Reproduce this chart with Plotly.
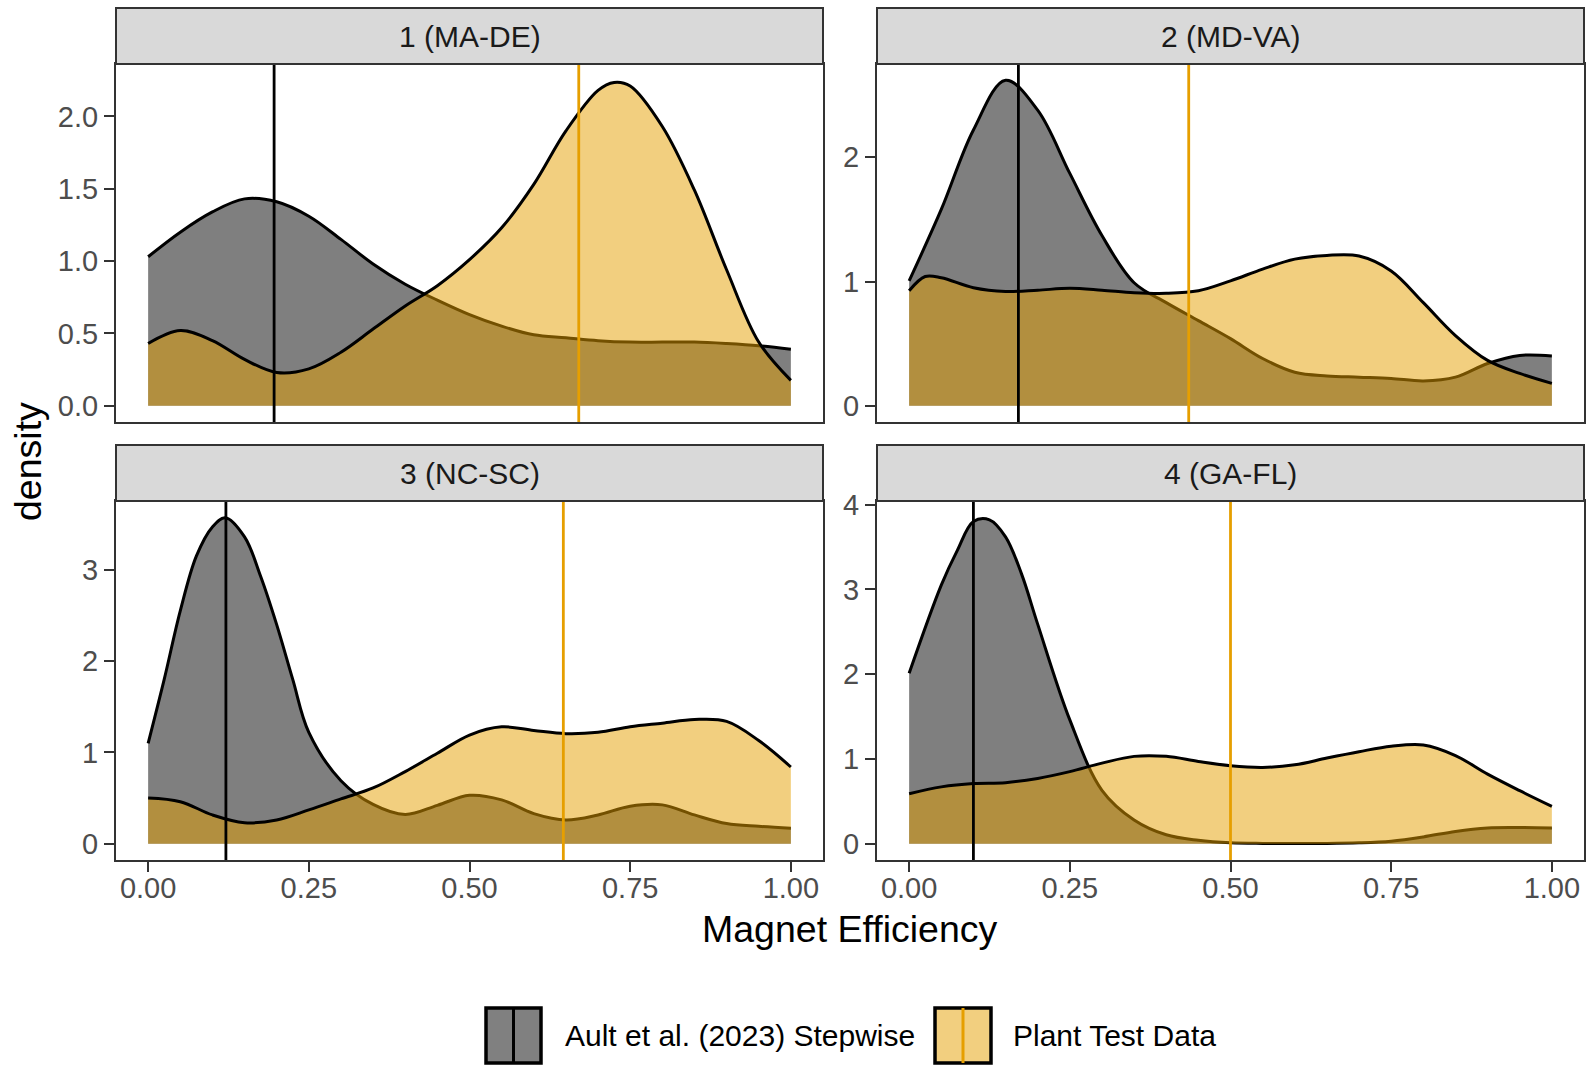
import plotly.graph_objects as go

# ---------------- data ----------------
PANELS = ["1 (MA-DE)", "2 (MD-VA)", "3 (NC-SC)", "4 (GA-FL)"]
SERIES = ["Ault et al. (2023) Stepwise", "Plant Test Data"]
X_TICKS = [0.0, 0.25, 0.5, 0.75, 1.0]
X_TICK_LABELS = ["0.00", "0.25", "0.50", "0.75", "1.00"]

GRID = [0.00, 0.05, 0.10, 0.15, 0.20, 0.25, 0.30, 0.35, 0.40, 0.45, 0.50,
        0.55, 0.60, 0.65, 0.70, 0.75, 0.80, 0.85, 0.90, 0.95, 1.00]

# Panel 1 (MA-DE)
P1_AULT_X = GRID
P1_AULT_Y = [1.03, 1.20, 1.34, 1.43, 1.41, 1.31, 1.15, 0.98, 0.84, 0.73, 0.63,
             0.55, 0.49, 0.47, 0.45, 0.44, 0.44, 0.44, 0.43, 0.415, 0.39]
P1_PLANT_X = [0.00, 0.05, 0.10, 0.15, 0.20, 0.25, 0.30, 0.35, 0.40, 0.45, 0.50,
              0.55, 0.60, 0.65, 0.70, 0.725, 0.75, 0.80, 0.85, 0.90, 0.95, 1.00]
P1_PLANT_Y = [0.43, 0.52, 0.45, 0.32, 0.23, 0.255, 0.37, 0.53, 0.69, 0.83, 1.01,
              1.23, 1.53, 1.90, 2.18, 2.235, 2.21, 1.93, 1.49, 0.94, 0.44, 0.175]

# Panel 2 (MD-VA)
P2_AULT_X = GRID
P2_AULT_Y = [1.005, 1.58, 2.22, 2.62, 2.38, 1.87, 1.37, 0.99, 0.83, 0.685, 0.54,
             0.38, 0.27, 0.24, 0.23, 0.22, 0.20, 0.23, 0.34, 0.405, 0.40]
P2_PLANT_X = [0.00, 0.025, 0.05, 0.10, 0.15, 0.20, 0.25, 0.30, 0.35, 0.40, 0.45, 0.50,
              0.55, 0.60, 0.65, 0.70, 0.75, 0.80, 0.85, 0.90, 0.95, 1.00]
P2_PLANT_Y = [0.925, 1.04, 1.03, 0.95, 0.92, 0.93, 0.945, 0.93, 0.91, 0.905, 0.925, 1.005,
              1.10, 1.18, 1.21, 1.205, 1.085, 0.83, 0.565, 0.365, 0.26, 0.18]

# Panel 3 (NC-SC)
P3_AULT_X = [0.00, 0.025, 0.05, 0.075, 0.10, 0.12, 0.15, 0.175, 0.20, 0.225, 0.25, 0.30,
             0.35, 0.40, 0.45, 0.50, 0.55, 0.60, 0.65, 0.70, 0.75, 0.80, 0.85, 0.90,
             0.95, 1.00]
P3_AULT_Y = [1.10, 1.80, 2.55, 3.15, 3.47, 3.57, 3.36, 2.93, 2.40, 1.80, 1.22, 0.69,
             0.43, 0.32, 0.42, 0.53, 0.48, 0.33, 0.26, 0.315, 0.41, 0.425, 0.315, 0.22,
             0.19, 0.17]
P3_PLANT_X = GRID
P3_PLANT_Y = [0.50, 0.46, 0.315, 0.23, 0.26, 0.37, 0.49, 0.61, 0.79, 0.99, 1.19,
              1.28, 1.24, 1.205, 1.22, 1.28, 1.32, 1.36, 1.34, 1.13, 0.84]

# Panel 4 (GA-FL)
P4_AULT_X = [0.00, 0.05, 0.075, 0.10, 0.125, 0.15, 0.175, 0.20, 0.25, 0.30, 0.35, 0.40,
             0.45, 0.50, 0.55, 0.60, 0.65, 0.70, 0.75, 0.80, 0.85, 0.90, 0.95, 1.00]
P4_AULT_Y = [2.01, 3.05, 3.46, 3.80, 3.82, 3.62, 3.18, 2.59, 1.46, 0.63, 0.28, 0.105,
             0.04, 0.01, 0.003, 0.002, 0.003, 0.01, 0.03, 0.08, 0.145, 0.185, 0.19, 0.185]
P4_PLANT_X = GRID
P4_PLANT_Y = [0.59, 0.67, 0.71, 0.72, 0.77, 0.85, 0.95, 1.03, 1.03, 0.97, 0.92,
              0.90, 0.93, 1.01, 1.085, 1.15, 1.165, 1.04, 0.82, 0.625, 0.44]

# vertical reference lines
AULT_LINE = [0.196, 0.170, 0.121, 0.100]
PLANT_LINE = [0.670, 0.435, 0.646, 0.500]

# y tick values per panel
Y_TICKS = [[0.0, 0.5, 1.0, 1.5, 2.0], [0, 1, 2], [0, 1, 2, 3], [0, 1, 2, 3, 4]]
Y_TICK_LABELS = [["0.0", "0.5", "1.0", "1.5", "2.0"], ["0", "1", "2"],
                 ["0", "1", "2", "3"], ["0", "1", "2", "3", "4"]]
Y_MAX = [2.25, 2.62, 3.575, 3.85]

# ---------------- style ----------------
FONT = "Liberation Sans, Arial, Helvetica, sans-serif"
AULT_FILL = "rgba(0,0,0,0.5)"
PLANT_FILL = "rgba(230,159,0,0.5)"
PLANT_COLOR = "#E69F00"
BORDER = "#333333"
TICK_TEXT = "#4D4D4D"
SMALL = 29
STRIP = 30
LEG = 30
BIG = 37.5
LW = 3.0

W, H = 1596, 1065
ML, MR, MT, MB = 116, 12, 8, 205
PW = W - ML - MR
PH = H - MT - MB


def px_x(p):
    return (p - ML) / PW


def px_y(p):
    return (H - MB - p) / PH


X_DOM = [[0.0, px_x(823)], [px_x(877), 1.0]]
Y_DOM_TOP = [px_y(422), px_y(64)]
Y_DOM_BOT = [0.0, px_y(501)]
STRIP_TOP = [px_y(64), px_y(8)]
STRIP_BOT = [px_y(501), px_y(445)]

series_data = [
    (P1_AULT_X, P1_AULT_Y, P1_PLANT_X, P1_PLANT_Y),
    (P2_AULT_X, P2_AULT_Y, P2_PLANT_X, P2_PLANT_Y),
    (P3_AULT_X, P3_AULT_Y, P3_PLANT_X, P3_PLANT_Y),
    (P4_AULT_X, P4_AULT_Y, P4_PLANT_X, P4_PLANT_Y),
]

fig = go.Figure()
shapes = []
annotations = []

for i, (ax_, ay_, pxs, pys) in enumerate(series_data):
    suf = "" if i == 0 else str(i + 1)
    xa, ya = "x" + suf, "y" + suf
    fig.add_trace(go.Scatter(
        x=ax_, y=ay_, xaxis=xa, yaxis=ya, mode="lines", fill="tozeroy",
        fillcolor=AULT_FILL, line=dict(color="black", width=LW, shape="spline", smoothing=1.0),
        name=SERIES[0], showlegend=False, hoverinfo="x+y"))
    fig.add_trace(go.Scatter(
        x=pxs, y=pys, xaxis=xa, yaxis=ya, mode="lines", fill="tozeroy",
        fillcolor=PLANT_FILL, line=dict(color="black", width=LW, shape="spline", smoothing=1.0),
        name=SERIES[1], showlegend=False, hoverinfo="x+y"))
    shapes.append(dict(type="line", xref=xa, yref=ya + " domain", x0=AULT_LINE[i], x1=AULT_LINE[i],
                       y0=0, y1=1, line=dict(color="black", width=2.8), layer="above"))
    shapes.append(dict(type="line", xref=xa, yref=ya + " domain", x0=PLANT_LINE[i], x1=PLANT_LINE[i],
                       y0=0, y1=1, line=dict(color=PLANT_COLOR, width=2.8), layer="above"))

layout_axes = {}
for i in range(4):
    suf = "" if i == 0 else str(i + 1)
    col = i % 2
    row = i // 2
    bottom = row == 1
    layout_axes["xaxis" + suf] = dict(
        domain=X_DOM[col], range=[-0.05, 1.05], anchor="y" + suf,
        showgrid=False, zeroline=False, showline=True, mirror=True,
        linecolor=BORDER, linewidth=2,
        tickmode="array", tickvals=X_TICKS, ticktext=X_TICK_LABELS,
        ticks="outside" if bottom else "", ticklen=10, tickwidth=2, tickcolor=BORDER,
        showticklabels=bottom, tickfont=dict(family=FONT, size=SMALL, color=TICK_TEXT),
        ticklabelstandoff=-9,
    )
    m = Y_MAX[i]
    layout_axes["yaxis" + suf] = dict(
        domain=Y_DOM_BOT if bottom else Y_DOM_TOP, range=[-0.05 * m, 1.05 * m], anchor="x" + suf,
        showgrid=False, zeroline=False, showline=True, mirror=True,
        linecolor=BORDER, linewidth=2,
        tickmode="array", tickvals=Y_TICKS[i], ticktext=Y_TICK_LABELS[i],
        ticks="outside", ticklen=10, tickwidth=2, tickcolor=BORDER,
        tickfont=dict(family=FONT, size=SMALL, color=TICK_TEXT),
        ticklabelstandoff=0,
    )
    sy = STRIP_BOT if bottom else STRIP_TOP
    shapes.append(dict(type="rect", xref="paper", yref="paper", x0=X_DOM[col][0], x1=X_DOM[col][1],
                       y0=sy[0], y1=sy[1], fillcolor="#D9D9D9", line=dict(color=BORDER, width=2),
                       layer="above"))
    annotations.append(dict(xref="paper", yref="paper", x=(X_DOM[col][0] + X_DOM[col][1]) / 2,
                            y=(sy[0] + sy[1]) / 2, text=PANELS[i], showarrow=False,
                            font=dict(family=FONT, size=STRIP, color="#1A1A1A"),
                            xanchor="center", yanchor="middle"))

annotations.append(dict(xref="paper", yref="paper", x=0.5, y=px_y(929), text="Magnet Efficiency",
                        showarrow=False, font=dict(family=FONT, size=BIG, color="black"),
                        xanchor="center", yanchor="middle"))
annotations.append(dict(xref="paper", yref="paper", x=px_x(28), y=px_y(462), text="density",
                        showarrow=False, textangle=-90, font=dict(family=FONT, size=BIG, color="black"),
                        xanchor="center", yanchor="middle"))

legend_items = [
    (SERIES[0], "rgb(128,128,128)", "black", 486, 541, 563),
    (SERIES[1], "rgb(242,207,127)", PLANT_COLOR, 935, 991, 1011),
]
ky0, ky1, kyc = px_y(1008), px_y(1063), px_y(1035)
for label, fill, lc, x0p, x1p, txp in legend_items:
    shapes.append(dict(type="rect", xref="paper", yref="paper", x0=px_x(x0p), x1=px_x(x1p),
                       y0=ky1, y1=ky0, fillcolor=fill, line=dict(color="black", width=3.5)))
    xm = px_x((x0p + x1p) / 2)
    shapes.append(dict(type="line", xref="paper", yref="paper", x0=xm, x1=xm, y0=ky1, y1=ky0,
                       line=dict(color=lc, width=3)))
    annotations.append(dict(xref="paper", yref="paper", x=px_x(txp), y=kyc, text=label,
                            showarrow=False, font=dict(family=FONT, size=LEG, color="black"),
                            xanchor="left", yanchor="middle"))

fig.update_layout(
    width=W, height=H,
    margin=dict(l=ML, r=MR, t=MT, b=MB, pad=0, autoexpand=False),
    paper_bgcolor="white", plot_bgcolor="white",
    showlegend=False,
    shapes=shapes, annotations=annotations,
    **layout_axes,
)

fig.write_html("out.html",
               config={"displayModeBar": False},
               post_script="document.body.style.margin='0px';document.body.style.padding='0px';")
